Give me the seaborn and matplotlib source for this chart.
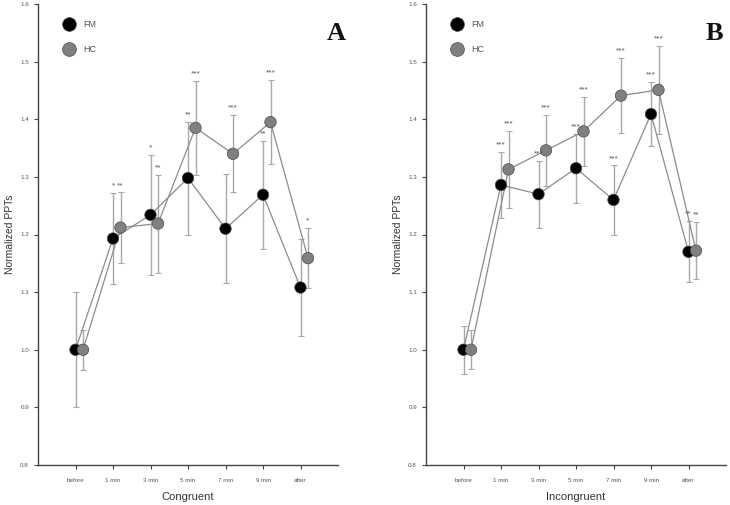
import numpy as np
import pandas as pd
import seaborn as sns
import matplotlib
matplotlib.use("Agg")
import matplotlib.pyplot as plt

sns.set_style("ticks")
plt.rcParams["font.family"] = ["Liberation Sans", "DejaVu Sans"]

#%% data

times = ["before", "1 min", "3 min", "5 min", "7 min", "9 min", "after"]

fm_cong = [1.0, 1.193, 1.234, 1.298, 1.21, 1.269, 1.108]
fm_cong_err = [0.10, 0.079, 0.104, 0.098, 0.095, 0.094, 0.085]
hc_cong = [1.0, 1.212, 1.219, 1.385, 1.34, 1.395, 1.159]
hc_cong_err = [0.035, 0.061, 0.085, 0.082, 0.067, 0.073, 0.052]

fm_incong = [1.0, 1.286, 1.270, 1.315, 1.260, 1.409, 1.170]
fm_incong_err = [0.042, 0.058, 0.058, 0.060, 0.060, 0.056, 0.053]
hc_incong = [1.0, 1.313, 1.346, 1.379, 1.441, 1.451, 1.172]
hc_incong_err = [0.034, 0.067, 0.062, 0.060, 0.065, 0.076, 0.050]

fm_cong_sig = ["", "*", "*", "**", "", "**", ""]
hc_cong_sig = ["", "**", "**", "***", "***", "***", "*"]
fm_incong_sig = ["", "***", "***", "***", "***", "***", "**"]
hc_incong_sig = ["", "***", "***", "***", "***", "***", "**"]

groups = ["FM", "HC"]
colors = {"FM": "#000000", "HC": "#808080"}
offset = {"FM": 0.0, "HC": 0.2}


def make_df(fm, fm_err, hc, hc_err, fm_sig, hc_sig):
    rows = []
    for g, vals, errs, sig in (("FM", fm, fm_err, fm_sig), ("HC", hc, hc_err, hc_sig)):
        for i, t in enumerate(times):
            rows.append({"group": g, "time": t, "pos": i + offset[g],
                         "value": vals[i], "err": errs[i], "sig": sig[i]})
    return pd.DataFrame(rows)


df_a = make_df(fm_cong, fm_cong_err, hc_cong, hc_cong_err, fm_cong_sig, hc_cong_sig)
df_b = make_df(fm_incong, fm_incong_err, hc_incong, hc_incong_err, fm_incong_sig, hc_incong_sig)

#%% plot

fig = plt.figure(figsize=(7.3, 5.05), dpi=100)
ax_a = fig.add_axes([38 / 730, 40 / 505, 300 / 730, 461 / 505])
ax_b = fig.add_axes([426 / 730, 40 / 505, 300 / 730, 461 / 505])


def draw(ax, df, xlabel, letter, letter_x):
    for g in groups:
        d = df[df.group == g]
        ax.errorbar(d.pos, d.value, yerr=d.err, fmt="none", ecolor="#a8a8a8",
                    elinewidth=1.0, capsize=2.2, capthick=0.8, zorder=1)
        for _, r in d.iterrows():
            if r.sig:
                ax.text(r.pos, r.value + r.err + 0.006, r.sig, ha="center", va="bottom",
                        fontsize=6, color="#555555", zorder=4)
    sns.lineplot(data=df, x="pos", y="value", hue="group", palette={"FM": "#8c8c8c", "HC": "#8c8c8c"},
                 linewidth=0.9, legend=False, ax=ax, zorder=2, sort=False)
    sns.scatterplot(data=df, x="pos", y="value", hue="group", palette=colors, s=68,
                    edgecolor="#4a4a4a", linewidth=0.5, ax=ax, zorder=3)
    ax.legend(loc="upper left", bbox_to_anchor=(0.045, 0.983), frameon=False, title=None,
              fontsize=6.5, labelspacing=1.75, handletextpad=0.6, labelcolor="#555555",
              markerscale=1.2)

    ax.set_xlim(-1, 7)
    ax.set_ylim(0.8, 1.6)
    ax.set_xticks(range(len(times)))
    ax.set_xticklabels(times)
    ax.set_yticks(np.arange(0.8, 1.61, 0.1))
    ax.set_yticklabels([f"{v:.1f}" for v in np.arange(0.8, 1.61, 0.1)])
    ax.tick_params(axis="both", labelsize=4.5, labelcolor="#555555", color="#444444",
                   length=3, width=0.8)
    ax.tick_params(axis="x", pad=6)
    ax.set_xlabel(xlabel, fontsize=8, color="#333333", labelpad=7)
    ax.set_ylabel("Normalized PPTs", fontsize=7.5, color="#333333", labelpad=4)
    for side in ("left", "bottom"):
        ax.spines[side].set_color("#444444")
        ax.spines[side].set_linewidth(1.0)
    sns.despine(ax=ax)
    ax.text(letter_x, 0.937, letter, transform=ax.transAxes, ha="center", va="center",
            fontsize=19, fontweight="bold", family="Liberation Serif", color="#111111")


draw(ax_a, df_a, "Congruent", "A", 0.995)
draw(ax_b, df_b, "Incongruent", "B", 0.963)

fig.savefig("out.png", dpi=100)
